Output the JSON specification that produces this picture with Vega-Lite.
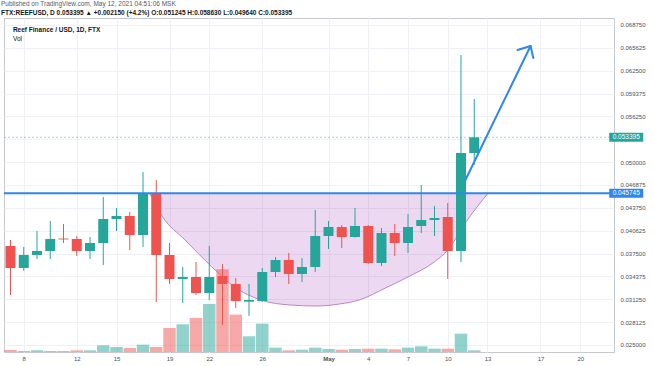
{
  "$schema": "https://vega.github.io/schema/vega-lite/v6.json",
  "width": 610,
  "height": 334,
  "autosize": {"type": "none"},
  "padding": {"left": 4, "top": 18, "right": 40, "bottom": 14},
  "background": "#ffffff",
  "config": {
    "font": "Liberation Sans",
    "view": {"stroke": "#c5c8cf", "strokeWidth": 1},
    "axis": {"gridColor": "#eef0f5", "ticks": false, "domain": false, "labelFontSize": 6, "labelColor": "#4a4f5a", "labelFont": "Liberation Sans", "labelOverlap": false}
  },
  "title": {
    "text": "Published on TradingView.com, May 12, 2021 04:51:06 MSK",
    "subtitle": "FTX:REEFUSD, D  0.053395 ▲ +0.002150 (+4.2%)  O:0.051245  H:0.058630  L:0.049640  C:0.053395",
    "anchor": "start",
    "dx": -2,
    "offset": 2,
    "fontSize": 6.5,
    "fontWeight": "normal",
    "color": "#555a66",
    "subtitleFontSize": 6.5,
    "subtitleColor": "#131722",
    "subtitleFontWeight": "bold",
    "subtitlePadding": 2.5
  },
  "datasets": {
    "candles": [
      {"date": "2021-04-07", "open": 0.038535, "high": 0.039355, "low": 0.031836, "close": 0.035527, "volume": 0.3},
      {"date": "2021-04-08", "open": 0.035527, "high": 0.038398, "low": 0.035117, "close": 0.037304, "volume": 0.15},
      {"date": "2021-04-09", "open": 0.037304, "high": 0.040586, "low": 0.036758, "close": 0.037851, "volume": 0.25},
      {"date": "2021-04-10", "open": 0.037851, "high": 0.041953, "low": 0.036758, "close": 0.039492, "volume": 0.15},
      {"date": "2021-04-11", "open": 0.03955, "high": 0.041543, "low": 0.038945, "close": 0.03943, "volume": 0.15},
      {"date": "2021-04-12", "open": 0.039492, "high": 0.039902, "low": 0.037168, "close": 0.037851, "volume": 0.25},
      {"date": "2021-04-13", "open": 0.037851, "high": 0.039765, "low": 0.036758, "close": 0.038945, "volume": 0.25},
      {"date": "2021-04-14", "open": 0.038945, "high": 0.045234, "low": 0.035937, "close": 0.042226, "volume": 1.0},
      {"date": "2021-04-15", "open": 0.042226, "high": 0.04373, "low": 0.040586, "close": 0.042636, "volume": 0.75},
      {"date": "2021-04-16", "open": 0.042636, "high": 0.043183, "low": 0.037988, "close": 0.040039, "volume": 0.6},
      {"date": "2021-04-17", "open": 0.040039, "high": 0.048652, "low": 0.038398, "close": 0.045745, "volume": 1.1},
      {"date": "2021-04-18", "open": 0.045745, "high": 0.047558, "low": 0.030879, "close": 0.037304, "volume": 0.75},
      {"date": "2021-04-19", "open": 0.037304, "high": 0.038945, "low": 0.03334, "close": 0.034023, "volume": 3.6},
      {"date": "2021-04-20", "open": 0.034023, "high": 0.035664, "low": 0.030742, "close": 0.034297, "volume": 4.15},
      {"date": "2021-04-21", "open": 0.034297, "high": 0.036347, "low": 0.031836, "close": 0.032109, "volume": 5.1},
      {"date": "2021-04-22", "open": 0.032109, "high": 0.038535, "low": 0.031152, "close": 0.034297, "volume": 7.2},
      {"date": "2021-04-23", "open": 0.034433, "high": 0.036074, "low": 0.027734, "close": 0.03334, "volume": 12.4},
      {"date": "2021-04-24", "open": 0.03334, "high": 0.03416, "low": 0.030058, "close": 0.031015, "volume": 5.6},
      {"date": "2021-04-25", "open": 0.03092, "high": 0.03334, "low": 0.028964, "close": 0.031152, "volume": 2.35},
      {"date": "2021-04-26", "open": 0.031015, "high": 0.035527, "low": 0.030879, "close": 0.03498, "volume": 4.25},
      {"date": "2021-04-27", "open": 0.03498, "high": 0.037031, "low": 0.034297, "close": 0.036621, "volume": 0.65},
      {"date": "2021-04-28", "open": 0.036621, "high": 0.037578, "low": 0.03334, "close": 0.034707, "volume": 0.25},
      {"date": "2021-04-29", "open": 0.034707, "high": 0.036894, "low": 0.033613, "close": 0.035664, "volume": 0.35},
      {"date": "2021-04-30", "open": 0.035664, "high": 0.043457, "low": 0.03498, "close": 0.039902, "volume": 0.65},
      {"date": "2021-05-01", "open": 0.039902, "high": 0.041953, "low": 0.038125, "close": 0.041133, "volume": 0.45},
      {"date": "2021-05-02", "open": 0.041133, "high": 0.041406, "low": 0.038261, "close": 0.039765, "volume": 0.35},
      {"date": "2021-05-03", "open": 0.039765, "high": 0.04373, "low": 0.039697, "close": 0.041269, "volume": 0.45},
      {"date": "2021-05-04", "open": 0.041269, "high": 0.041406, "low": 0.036074, "close": 0.036211, "volume": 0.5},
      {"date": "2021-05-05", "open": 0.036211, "high": 0.040996, "low": 0.0358, "close": 0.040312, "volume": 0.5},
      {"date": "2021-05-06", "open": 0.040312, "high": 0.041543, "low": 0.037168, "close": 0.038945, "volume": 0.4},
      {"date": "2021-05-07", "open": 0.038945, "high": 0.04291, "low": 0.037578, "close": 0.041133, "volume": 0.65},
      {"date": "2021-05-08", "open": 0.041269, "high": 0.046875, "low": 0.040312, "close": 0.04209, "volume": 0.85},
      {"date": "2021-05-09", "open": 0.04209, "high": 0.044004, "low": 0.039902, "close": 0.042363, "volume": 0.5},
      {"date": "2021-05-10", "open": 0.0425, "high": 0.044414, "low": 0.034023, "close": 0.037851, "volume": 0.5},
      {"date": "2021-05-11", "open": 0.037851, "high": 0.064648, "low": 0.036347, "close": 0.051245, "volume": 2.75},
      {"date": "2021-05-12", "open": 0.051245, "high": 0.05863, "low": 0.04964, "close": 0.053395, "volume": 0.25}
    ],
    "cup": [
      {"date": "2021-04-17T12:00:00Z", "price": 0.045745},
      {"date": "2021-04-18T11:15:00Z", "price": 0.04254},
      {"date": "2021-04-20T04:10:00Z", "price": 0.039354},
      {"date": "2021-04-22T04:20:00Z", "price": 0.035704},
      {"date": "2021-04-23T21:15:00Z", "price": 0.032969},
      {"date": "2021-04-25T21:20:00Z", "price": 0.031151},
      {"date": "2021-04-28T02:50:00Z", "price": 0.030467},
      {"date": "2021-04-30T02:25:00Z", "price": 0.03033},
      {"date": "2021-05-01T19:55:00Z", "price": 0.030604},
      {"date": "2021-05-03T07:40:00Z", "price": 0.031151},
      {"date": "2021-05-05T07:10:00Z", "price": 0.032791},
      {"date": "2021-05-07T00:45:00Z", "price": 0.034336},
      {"date": "2021-05-09T00:15:00Z", "price": 0.036387},
      {"date": "2021-05-10T00:00:00Z", "price": 0.037987},
      {"date": "2021-05-11T11:30:00Z", "price": 0.042089},
      {"date": "2021-05-13T01:00:00Z", "price": 0.045745}
    ],
    "arrow": [
      {"seg": "shaft", "order": 1, "date": "2021-05-11T08:00:00Z", "price": 0.047558},
      {"seg": "shaft", "order": 2, "date": "2021-05-16T06:00:00Z", "price": 0.065879},
      {"seg": "head", "order": 1, "date": "2021-05-15T06:30:00Z", "price": 0.065332},
      {"seg": "head", "order": 2, "date": "2021-05-16T06:00:00Z", "price": 0.065879},
      {"seg": "head", "order": 3, "date": "2021-05-16T11:00:00Z", "price": 0.064238}
    ],
    "levels": [
      {"name": "last", "price": 0.053395, "label": "0.053395"},
      {"name": "resistance", "price": 0.045745, "label": "0.045745"}
    ]
  },
  "layer": [
    {
      "layer": [
        {
          "data": {"name": "cup"},
          "mark": {"type": "area", "interpolate": "monotone", "color": "#9c27b0", "fillOpacity": 0.18, "line": {"color": "#b985cc", "strokeWidth": 1}},
          "encoding": {
            "x": {"field": "date", "type": "temporal", "scale": {"type": "utc", "domain": [1617743785000, 1621656288000], "nice": false}},
            "y": {"field": "price", "type": "quantitative", "scale": {"domain": [0.024041, 0.069707], "nice": false, "zero": false},
              "axis": {"orient": "right", "title": null, "grid": true, "labelPadding": 6, "format": ".6f", "labelOverlap": false, "tickCount": 30,
                "values": [0.025, 0.028125, 0.03125, 0.034375, 0.0375, 0.040625, 0.04375, 0.046875, 0.05, 0.053125, 0.05625, 0.059375, 0.0625, 0.065625, 0.06875],
                "labelExpr": "(datum.value > 0.053 && datum.value < 0.0532) ? '' : datum.label"}},
            "y2": {"datum": 0.045745}
          }
        },
        {
          "data": {"name": "levels"},
          "transform": [{"filter": "datum.name == 'last'"}],
          "mark": {"type": "rule", "color": "#26a69a", "opacity": 0.45, "strokeWidth": 1, "strokeDash": [2, 2]},
          "encoding": {
            "y": {"field": "price", "type": "quantitative", "scale": {"domain": [0.024041, 0.069707], "nice": false, "zero": false}}
          }
        }
      ]
    },
    {
      "data": {"name": "candles"},
      "mark": {"type": "bar", "width": 12.5, "opacity": 0.5, "clip": true},
      "encoding": {
        "x": {"field": "date", "type": "temporal", "scale": {"type": "utc", "domain": [1617743785000, 1621656288000], "nice": false},
          "axis": {"title": null, "grid": true, "labelPadding": 3, "labelOverlap": false, "tickCount": 30,
            "values": [1617840000000, 1618185600000, 1618444800000, 1618790400000, 1619049600000, 1619395200000, 1619827200000, 1620086400000, 1620345600000, 1620604800000, 1620864000000, 1621209600000, 1621468800000],
            "labelExpr": "utcdate(datum.value) == 1 ? 'May' : utcFormat(datum.value, '%-d')",
            "labelFontWeight": {"condition": {"test": "utcdate(datum.value) == 1", "value": "bold"}, "value": "normal"}}},
        "y": {"field": "volume", "type": "quantitative", "scale": {"domain": [0, 50], "nice": false}, "axis": null},
        "color": {"condition": {"test": "datum.close >= datum.open", "value": "#26a69a"}, "value": "#ef5350"}
      }
    },
    {
      "layer": [
        {
          "data": {"name": "candles"},
          "mark": {"type": "rule", "strokeWidth": 1, "clip": true},
          "encoding": {
            "x": {"field": "date", "type": "temporal", "scale": {"type": "utc", "domain": [1617743785000, 1621656288000], "nice": false}},
            "y": {"field": "low", "type": "quantitative", "scale": {"domain": [0.024041, 0.069707], "nice": false, "zero": false}, "axis": null},
            "y2": {"field": "high"},
            "color": {"condition": {"test": "datum.close >= datum.open", "value": "#26a69a"}, "value": "#ef5350"}
          }
        },
        {
          "data": {"name": "candles"},
          "mark": {"type": "bar", "width": 10, "clip": true},
          "encoding": {
            "x": {"field": "date", "type": "temporal"},
            "y": {"field": "open", "type": "quantitative", "axis": null},
            "y2": {"field": "close"},
            "color": {"condition": {"test": "datum.close >= datum.open", "value": "#26a69a"}, "value": "#ef5350"}
          }
        },
        {
          "data": {"name": "levels"},
          "transform": [{"filter": "datum.name == 'resistance'"}],
          "mark": {"type": "rule", "color": "#2f86eb", "strokeWidth": 2},
          "encoding": {
            "y": {"field": "price", "type": "quantitative", "axis": null}
          }
        },
        {
          "data": {"name": "arrow"},
          "mark": {"type": "line", "color": "#2f86eb", "strokeWidth": 2, "strokeCap": "round", "strokeJoin": "round"},
          "encoding": {
            "x": {"field": "date", "type": "temporal"},
            "y": {"field": "price", "type": "quantitative", "axis": null},
            "detail": {"field": "seg"},
            "order": {"field": "order", "type": "quantitative"}
          }
        },
        {
          "data": {"values": [{}]},
          "mark": {"type": "text", "text": "Reef Finance / USD, 1D, FTX", "align": "left", "baseline": "middle", "fontSize": 6.5, "fontWeight": "bold", "color": "#131722"},
          "encoding": {
            "x": {"datum": 1617769380000, "type": "temporal"},
            "y": {"datum": 0.068066, "type": "quantitative", "axis": null}
          }
        },
        {
          "data": {"values": [{}]},
          "mark": {"type": "text", "text": "Vol", "align": "left", "baseline": "middle", "fontSize": 6.5, "color": "#131722"},
          "encoding": {
            "x": {"datum": 1617769380000, "type": "temporal"},
            "y": {"datum": 0.066836, "type": "quantitative", "axis": null}
          }
        },
        {
          "data": {"name": "levels"},
          "mark": {"type": "tick", "orient": "horizontal", "size": 34, "thickness": 9, "opacity": 1},
          "encoding": {
            "x": {"datum": 1621768620000, "type": "temporal"},
            "y": {"field": "price", "type": "quantitative", "axis": null},
            "color": {"field": "name", "type": "nominal", "scale": {"domain": ["last", "resistance"], "range": ["#26a69a", "#2f86eb"]}, "legend": null}
          }
        },
        {
          "data": {"name": "levels"},
          "mark": {"type": "text", "align": "center", "baseline": "middle", "fontSize": 6.5, "color": "#ffffff"},
          "encoding": {
            "x": {"datum": 1621768620000, "type": "temporal"},
            "y": {"field": "price", "type": "quantitative", "axis": null},
            "text": {"field": "label"}
          }
        }
      ]
    }
  ],
  "resolve": {"scale": {"y": "independent"}}
}
